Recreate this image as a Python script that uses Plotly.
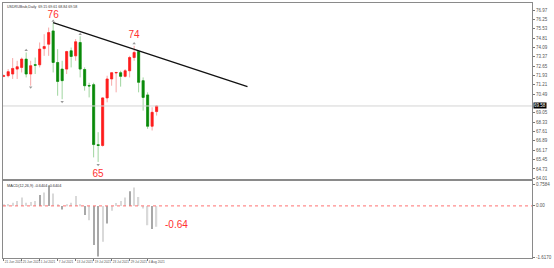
import plotly.graph_objects as go

# ---------------- data ----------------
bar_index = list(range(35))
opens  = [71.86, 71.91, 72.04, 72.42, 72.55, 73.19, 72.04, 72.76, 72.75, 74.00,
          74.34, 75.36, 72.93, 72.42, 72.42, 73.83, 73.44, 74.47, 72.39, 71.16,
          71.22, 66.60, 66.54, 70.20, 71.66, 72.12, 72.14, 71.86, 72.29, 73.31,
          73.77, 71.53, 70.43, 68.02, 69.15]
highs  = [72.00, 72.42, 73.27, 73.06, 73.31, 73.70, 73.06, 73.31, 74.47, 75.11,
          75.62, 76.00, 73.96, 73.06, 73.83, 74.08, 74.73, 74.95, 72.55, 71.37,
          71.37, 67.56, 70.25, 71.91, 72.16, 72.20, 72.29, 72.42, 73.44, 74.21,
          73.83, 71.78, 70.63, 69.48, 69.61]
lows   = [71.80, 71.78, 71.66, 71.66, 72.16, 71.78, 71.14, 72.04, 72.55, 73.44,
          73.44, 72.16, 70.37, 70.10, 72.04, 72.55, 73.06, 71.78, 70.76, 70.24,
          65.62, 65.27, 66.45, 69.86, 71.14, 70.63, 71.07, 71.78, 71.78, 73.06,
          70.63, 69.22, 67.82, 67.69, 68.84]
closes = [71.91, 72.22, 72.47, 72.60, 73.19, 72.04, 72.68, 72.72, 73.96, 74.16,
          75.23, 72.93, 71.47, 71.53, 73.77, 73.39, 74.52, 72.42, 71.14, 71.12,
          66.61, 66.54, 70.20, 71.66, 72.14, 72.16, 71.86, 72.29, 73.31, 73.70,
          71.40, 70.24, 68.02, 69.09, 69.58]

fractal_up_idx = [5, 11, 17, 29]
fractal_up_val = [73.88, 76.13, 75.10, 74.40]
fractal_dn_idx = [6, 13, 21]
fractal_dn_val = [71.02, 69.90, 65.05]

macd_hist = [0.03, 0.06, 0.10, 0.15, 0.26, 0.10, 0.12, 0.15, 0.33, 0.41,
             0.63, 0.38, 0.02, -0.11, 0.05, 0.10, 0.30, 0.05, -0.28, -0.44,
             -1.20, -1.55, -1.10, -0.54, -0.15, 0.09, 0.15, 0.26, 0.45, 0.56,
             0.27, -0.08, -0.59, -0.71, -0.64]
macd_shade = ["l", "l", "l", "l", "l", "l", "l", "l", "d", "l",
              "d", "l", "l", "d", "l", "l", "l", "l", "d", "l",
              "d", "d", "l", "d", "l", "l", "l", "l", "d", "l",
              "l", "l", "l", "d", "l"]

trend_x = [11, 54.2]
trend_y = [76.00, 71.07]

swing_labels = ["76", "74", "65"]
swing_idx = [11, 29, 21]
swing_val = [76.55, 74.98, 64.31]

date_tick_idx = [0, 4, 8, 12, 16, 20, 24, 28, 32]
date_tick_text = ["21 Jun 2021", "25 Jun 2021", "1 Jul 2021", "7 Jul 2021",
                  "13 Jul 2021", "19 Jul 2021", "23 Jul 2021", "29 Jul 2021",
                  "4 Aug 2021"]

price_tick_vals = [76.97, 76.25, 75.53, 74.81, 74.09, 73.37, 72.65, 71.93, 71.21,
                   70.49, 69.05, 68.33, 67.61, 66.89, 66.17, 65.45, 64.73, 64.01]

current_price = 69.58
last_macd_label = "-0.64"
sub_tick_vals = [0.66, 0.0, -1.58]
sub_tick_text = ["0.7584", "0.00", "-1.6170"]

# ---------------- style ----------------
RED = "#ff1c1c"
GREEN = "#0a8a0a"
RED_W = "#f7a8a8"
GREEN_W = "#9fd59f"
FONT = "Liberation Sans"
AX = "#8a8a8a"

fig = go.Figure()

# wicks (light) + bodies
fig.add_trace(go.Candlestick(
    x=bar_index, open=opens, high=highs, low=lows, close=closes,
    increasing=dict(line=dict(color=RED_W, width=1), fillcolor=RED),
    decreasing=dict(line=dict(color=GREEN_W, width=1), fillcolor=GREEN),
    whiskerwidth=0, showlegend=False, xaxis="x", yaxis="y"))
body_hi = [max(o, c) for o, c in zip(opens, closes)]
body_lo = [min(o, c) for o, c in zip(opens, closes)]
fig.add_trace(go.Candlestick(
    x=bar_index, open=opens, high=body_hi, low=body_lo, close=closes,
    increasing=dict(line=dict(color=RED, width=0.6), fillcolor=RED),
    decreasing=dict(line=dict(color=GREEN, width=0.6), fillcolor=GREEN),
    whiskerwidth=0, showlegend=False, xaxis="x", yaxis="y"))

# fractal markers
fig.add_trace(go.Scatter(x=fractal_up_idx, y=fractal_up_val, mode="markers",
                         marker=dict(symbol="triangle-up", size=3, color="#999"),
                         showlegend=False, xaxis="x", yaxis="y"))
fig.add_trace(go.Scatter(x=fractal_dn_idx, y=fractal_dn_val, mode="markers",
                         marker=dict(symbol="triangle-down", size=3, color="#999"),
                         showlegend=False, xaxis="x", yaxis="y"))

# trend line
fig.add_trace(go.Scatter(x=trend_x, y=trend_y, mode="lines",
                         line=dict(color="#111", width=1.3),
                         showlegend=False, xaxis="x", yaxis="y"))

# swing labels
fig.add_trace(go.Scatter(x=swing_idx, y=swing_val, mode="text", text=swing_labels,
                         textfont=dict(family=FONT, size=10, color="#ff3030"),
                         showlegend=False, xaxis="x", yaxis="y"))

# MACD histogram
fig.add_trace(go.Bar(x=bar_index, y=macd_hist, width=0.28,
                     marker=dict(color=["#a8a8a8" if s == "d" else "#d9d9d9" for s in macd_shade],
                                 line=dict(width=0)),
                     showlegend=False, xaxis="x2", yaxis="y2"))

XR = [-0.15, 117.45]

fig.update_layout(
    width=554, height=268,
    margin=dict(l=2, r=14, t=2, b=10),
    paper_bgcolor="white", plot_bgcolor="white",
    font=dict(family=FONT, size=5, color="#444"),
    boxgap=0.35,
    xaxis=dict(domain=[0, 1], anchor="y", range=XR, showticklabels=False,
               showgrid=False, zeroline=False, showline=True, mirror=True,
               linecolor=AX, linewidth=1, ticks="", rangeslider=dict(visible=False)),
    yaxis=dict(domain=[0.3105, 1], anchor="x", side="right", range=[63.97, 77.51],
               tickvals=price_tick_vals, tickformat=".2f", showgrid=False,
               zeroline=False, showline=True, mirror=True, linecolor=AX, linewidth=1,
               ticks="outside", ticklen=2, tickcolor="#777",
               tickfont=dict(size=4.5, color="#555")),
    xaxis2=dict(domain=[0, 1], anchor="y2", range=XR, matches="x",
                tickvals=date_tick_idx, ticktext=date_tick_text, tickangle=0,
                ticklabelposition="outside right", ticks="outside", ticklen=2,
                tickcolor="#777", tickfont=dict(size=3.2, color="#555"),
                showgrid=False, zeroline=False, showline=True, mirror=True,
                linecolor=AX, linewidth=1),
    yaxis2=dict(domain=[0, 0.3008], anchor="x2", side="right", range=[-1.595, 0.753],
                tickvals=sub_tick_vals, ticktext=sub_tick_text, showgrid=False,
                zeroline=False, showline=True, mirror=True, linecolor=AX, linewidth=1,
                ticks="outside", ticklen=2, tickcolor="#777",
                tickfont=dict(size=4.5, color="#555")),
)

# current price line and zero/signal line
fig.add_shape(type="line", xref="x", yref="y", x0=XR[0], x1=XR[1],
              y0=current_price, y1=current_price, line=dict(color="#d4d4d4", width=1))
fig.add_shape(type="line", xref="x2", yref="y2", x0=XR[0], x1=XR[1],
              y0=0, y1=0, line=dict(color="#ff7070", width=1, dash="dot"))

annotations = [
    dict(x=1, xref="paper", y=current_price, yref="y", xanchor="left",
         text=f"{current_price:.2f}", showarrow=False, bgcolor="#000",
         font=dict(size=4.5, color="white"), borderpad=0, xshift=1),
    dict(x=35.5, xref="x2", y=-0.58, yref="y2", xanchor="left",
         text=last_macd_label, showarrow=False,
         font=dict(family=FONT, size=10, color="#ff3030")),
    dict(x=0.004, xref="paper", y=1.0, yref="paper", xanchor="left", yanchor="top",
         text="USDRUBrub,Daily  69.15 69.61 68.84 69.58", showarrow=False,
         font=dict(size=3.6, color="#333")),
    dict(x=0.004, xref="paper", y=0.297, yref="paper", xanchor="left", yanchor="top",
         text="MACD(12,26,9) -0.6404 -0.6404", showarrow=False,
         font=dict(size=3.8, color="#333")),
]
fig.update_layout(annotations=annotations)

fig.write_html("out.html")
